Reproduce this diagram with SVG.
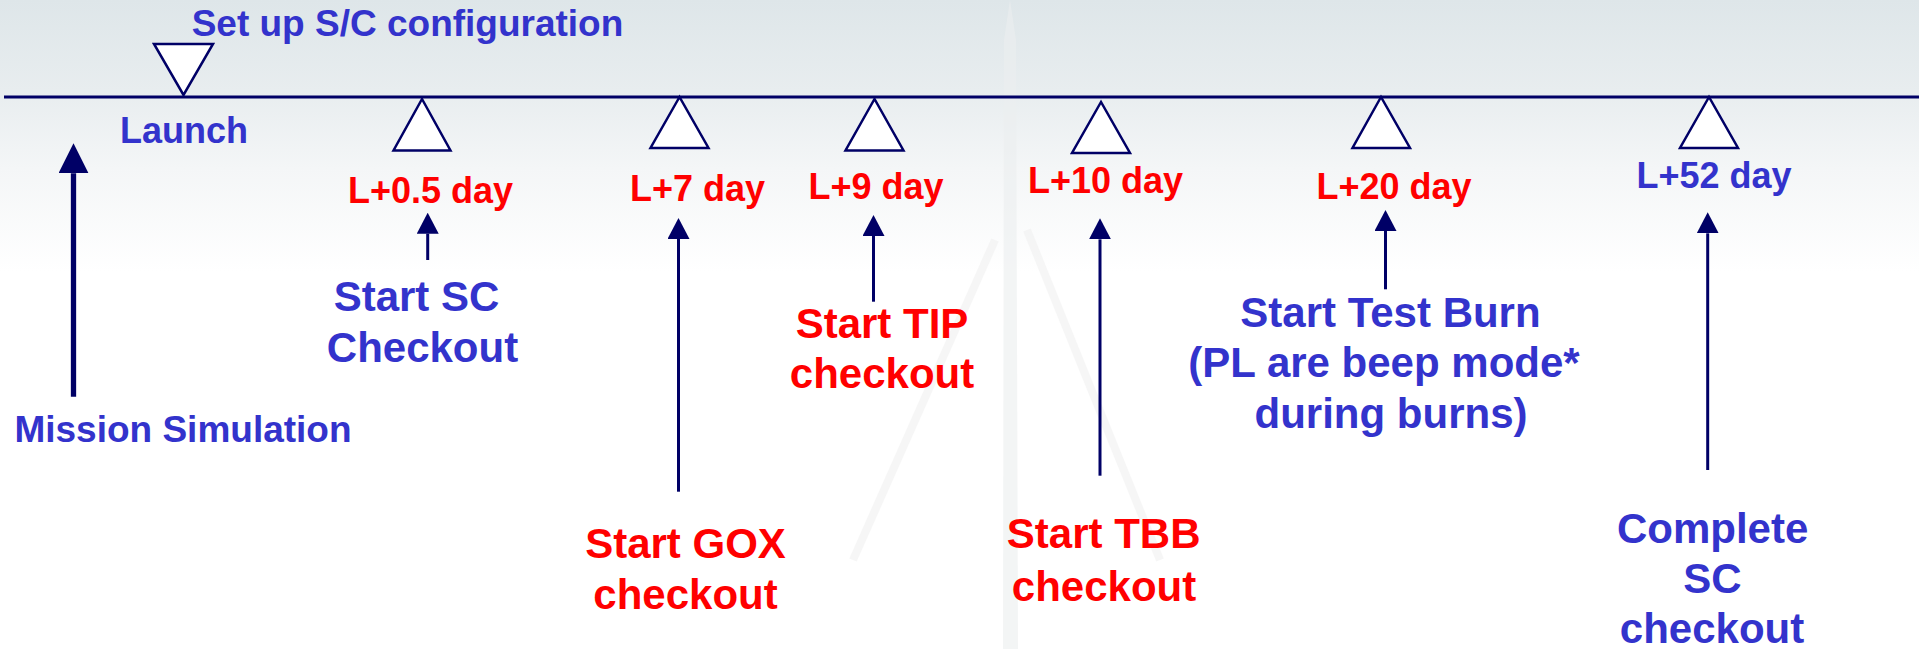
<svg xmlns="http://www.w3.org/2000/svg" width="1919" height="649" viewBox="0 0 1919 649">
  <defs>
    <linearGradient id="bg" x1="0" y1="0" x2="0" y2="1">
      <stop offset="0" stop-color="#dee6e9"/>
      <stop offset="0.14" stop-color="#e8edef"/>
      <stop offset="0.26" stop-color="#f4f6f7"/>
      <stop offset="0.42" stop-color="#ffffff"/>
      <stop offset="1" stop-color="#ffffff"/>
    </linearGradient>
    <marker id="head" viewBox="0 0 21 22" markerWidth="21" markerHeight="22" refX="0" refY="11" orient="auto" markerUnits="userSpaceOnUse">
      <path d="M0,0 L21,11 L0,22 Z" fill="#000066"/>
    </marker>
    <marker id="headBig" viewBox="0 0 30 30" markerWidth="30" markerHeight="30" refX="0" refY="15" orient="auto" markerUnits="userSpaceOnUse">
      <path d="M0,0 L30,15 L0,30 Z" fill="#000066"/>
    </marker>
    <style>
      .tri { fill: #ffffff; stroke: #000066; stroke-width: 2.5; stroke-linejoin: miter; }
      .arr { stroke: #000066; stroke-width: 3; fill: none; marker-end: url(#head); }
      .arrBig { stroke: #000066; stroke-width: 5.3; fill: none; marker-end: url(#headBig); }
      text { font-family: "Liberation Sans", Arial, sans-serif; font-weight: bold; text-anchor: middle; }
      .blue { fill: #3333cc; }
      .red { fill: #ff0000; }
      .s36 { font-size: 36px; }
      .s37 { font-size: 37px; }
      .s42 { font-size: 42px; }
      .mark { stroke: #f1f1f1; fill: none; }
    </style>
  </defs>

  <!-- background -->
  <rect x="0" y="0" width="1919" height="649" fill="url(#bg)"/>

  <!-- faint launch-tower watermark -->
  <g id="watermark" opacity="0.6">
    <polygon points="1010,0 1016,40 1018,649 1003,649 1004,40" fill="#eceff0"/>
    <line class="mark" x1="995" y1="240" x2="853" y2="560" stroke-width="8"/>
    <line class="mark" x1="1027" y1="230" x2="1160" y2="560" stroke-width="8"/>
  </g>

  <!-- time axis -->
  <g id="axis">
    <line x1="4" y1="97" x2="1919" y2="97" stroke="#000066" stroke-width="3"/>
  </g>

  <!-- milestone nodes -->
  <g id="setup">
    <polygon class="tri" points="154,44 213,44 183.5,95"/>
    <text class="blue s37" x="407.5" y="36">Set up S/C configuration</text>
    <text class="blue s36" x="184" y="142.7">Launch</text>
  </g>
  <g id="mission-sim">
    <text class="blue s37" x="183" y="442">Mission Simulation</text>
  </g>
  <g id="l0-5">
    <polygon class="tri" points="422,99 393.5,150.5 450.5,150.5"/>
    <text class="red s36" x="430.5" y="203">L+0.5 day</text>
    <text class="blue s42" x="416.5" y="310.7">Start SC</text>
    <text class="blue s42" x="422.5" y="361.7">Checkout</text>
  </g>
  <g id="l7">
    <polygon class="tri" points="679.5,97 650.5,148 708.5,148"/>
    <text class="red s36" x="697.5" y="201">L+7 day</text>
    <text class="red s42" x="685.5" y="558.3">Start GOX</text>
    <text class="red s42" x="685.5" y="609.3">checkout</text>
  </g>
  <g id="l9">
    <polygon class="tri" points="874.5,99 845.5,150.5 903.5,150.5"/>
    <text class="red s36" x="876" y="199.3">L+9 day</text>
    <text class="red s42" x="882" y="338.3">Start TIP</text>
    <text class="red s42" x="882" y="388.3">checkout</text>
  </g>
  <g id="l10">
    <polygon class="tri" points="1101,102 1072,153 1130,153"/>
    <text class="red s36" x="1105.6" y="193.3">L+10 day</text>
    <text class="red s42" x="1103.7" y="547.7">Start TBB</text>
    <text class="red s42" x="1104" y="600.7">checkout</text>
  </g>
  <g id="l20">
    <polygon class="tri" points="1381,97 1352.5,148 1410,148"/>
    <text class="red s36" x="1394" y="199.3">L+20 day</text>
    <text class="blue s42" x="1390.5" y="326.7">Start Test Burn</text>
    <text class="blue s42" x="1384" y="377.3">(PL are beep mode*</text>
    <text class="blue s42" x="1391" y="428.3">during burns)</text>
  </g>
  <g id="l52">
    <polygon class="tri" points="1709,97 1680,148 1738,148"/>
    <text class="blue s36" x="1714" y="188.3">L+52 day</text>
    <text class="blue s42" x="1712.6" y="543.3">Complete</text>
    <text class="blue s42" x="1712.4" y="593.3">SC</text>
    <text class="blue s42" x="1712" y="643.3">checkout</text>
  </g>

  <!-- connectors -->
  <g id="connectors">
    <line class="arrBig" x1="73.5" y1="396.7" x2="73.5" y2="173.3"/>
    <line class="arr" x1="427.7" y1="260" x2="427.7" y2="233.7"/>
    <line class="arr" x1="678.5" y1="491.7" x2="678.5" y2="239"/>
    <line class="arr" x1="873.5" y1="301.7" x2="873.5" y2="236"/>
    <line class="arr" x1="1100" y1="475.7" x2="1100" y2="239.3"/>
    <line class="arr" x1="1385.5" y1="289.3" x2="1385.5" y2="231"/>
    <line class="arr" x1="1707.7" y1="470" x2="1707.7" y2="233.3"/>
  </g>
</svg>
